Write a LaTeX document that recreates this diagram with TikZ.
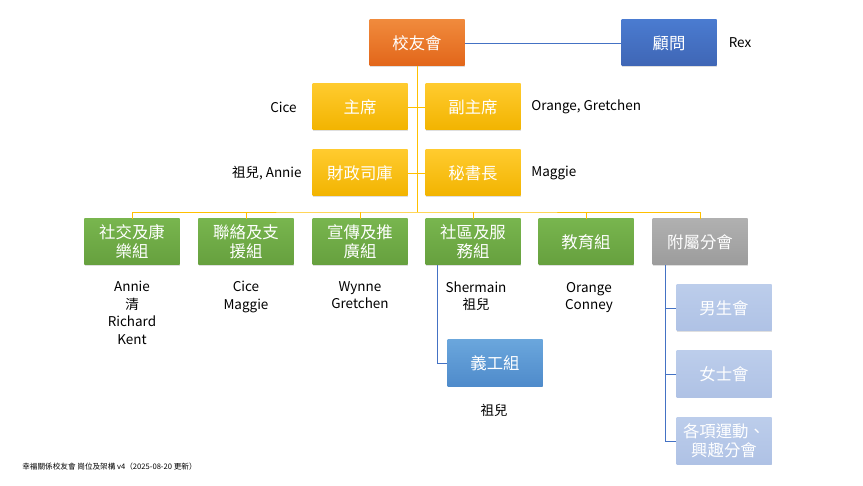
\documentclass[tikz,border=0pt]{standalone}
\usepackage{fontspec}
\setmainfont{Noto Sans CJK TC}
\usetikzlibrary{positioning,shadows}
\definecolor{orgA}{HTML}{F08A3C}\definecolor{orgB}{HTML}{E2661A}
\definecolor{bluA}{HTML}{4A7BD0}\definecolor{bluB}{HTML}{3F66B5}
\definecolor{yelA}{HTML}{FFCB2E}\definecolor{yelB}{HTML}{F2B400}
\definecolor{grnA}{HTML}{78B54E}\definecolor{grnB}{HTML}{66A03E}
\definecolor{gryA}{HTML}{B0B0B0}\definecolor{gryB}{HTML}{9C9C9C}
\definecolor{lbA}{HTML}{BCCDEB}\definecolor{lbB}{HTML}{AFC2E5}
\definecolor{vbA}{HTML}{6AA6DC}\definecolor{vbB}{HTML}{4F8BCB}
\definecolor{linY}{HTML}{FFC000}\definecolor{linB}{HTML}{4472C4}
\begin{document}
\begin{tikzpicture}
  [
  x=0.03cm, y=-0.03cm, line width=0.8pt,
  box/.style={rectangle, inner sep=0pt, minimum width=2.85cm, minimum height=1.38cm,
    align=center, text=white, font=\fontsize{14}{16}\selectfont,
    drop shadow={opacity=0.25, shadow xshift=0.3pt, shadow yshift=-0.8pt}},
  topbox/.style={box, top color=orgA, bottom color=orgB},
  advbox/.style={box, top color=bluA, bottom color=bluB},
  offbox/.style={box, top color=yelA, bottom color=yelB},
  grpbox/.style={box, top color=grnA, bottom color=grnB},
  subbox/.style={box, top color=gryA, bottom color=gryB},
  clubbox/.style={box, top color=lbA, bottom color=lbB},
  volbox/.style={box, top color=vbA, bottom color=vbB},
  who/.style={font=\fontsize{11.5}{15}\selectfont, align=center, text=black},
  ]
  \useasboundingbox (0,0) rectangle (863,486);

  % top level
  \node[topbox] (assoc) at (417,43) {校友會};
  \node[advbox] (advisor) at (669,43) {顧問};
  \node[who] (rex) at (740,43) {Rex};

  % officers
  \node[offbox] (chair) at (360,107) {主席};
  \node[offbox] (vice) at (473,107) {副主席};
  \node[offbox] (treas) at (360,173) {財政司庫};
  \node[offbox] (secr) at (473,173) {秘書長};
  \node[who, anchor=east] (chairp) at (301,107) {Cice};
  \node[who, anchor=west] (vicep) at (527,107) {Orange, Gretchen};
  \node[who, anchor=east] (treasp) at (306,173) {祖兒, Annie};
  \node[who, anchor=west] (secrp) at (527,173) {Maggie};

  % groups
  \node[grpbox] (social) at (132,242) {社交及康\\樂組};
  \node[grpbox] (liaison) at (246,242) {聯絡及支\\援組};
  \node[grpbox] (promo) at (360,242) {宣傳及推\\廣組};
  \node[grpbox] (comm) at (473,242) {社區及服\\務組};
  \node[grpbox] (edu) at (586,242) {教育組};
  \node[subbox] (branch) at (700,242) {附屬分會};
  \node[volbox] (vol) at (495,363) {義工組};
  \node[clubbox] (men) at (724,308) {男生會};
  \node[clubbox] (women) at (724,374) {女士會};
  \node[clubbox] (sport) at (724,441) {各項運動、\\興趣分會};

  \node[who, anchor=north] (socialp) at (132,277) {Annie\\清\\Richard\\Kent};
  \node[who, anchor=north] (liaisonp) at (246,277) {Cice\\Maggie};
  \node[who, anchor=north] (promop) at (360,277) {Wynne\\Gretchen};
  \node[who, anchor=north] (commp) at (476,277) {Shermain\\祖兒};
  \node[who, anchor=north] (edup) at (589,278) {Orange\\Conney};
  \node[who] (volp) at (494,410) {祖兒};

  % connectors
  \coordinate (bus) at (417,212);
  \draw[linB] (assoc) -- (advisor);
  \draw[linY] (assoc.south) -- (bus);
  \draw[linY] (chair.east) -- (vice.west);
  \draw[linY] (treas.east) -- (secr.west);
  \draw[linY] (social.north) |- (bus) -| (branch.north);
  \foreach \g in {liaison,promo,comm,edu}
    \draw[linY] (\g.north) -- (\g.north |- bus);
  \draw[linB] (comm.south -| 437,0) |- (vol.west);
  \draw[linB] (branch.south -| 665,0) |- (sport.west);
  \draw[linB] (men.west) -- (men.west -| 665,0);
  \draw[linB] (women.west) -- (women.west -| 665,0);

  \node[font=\fontsize{6.5}{8}\selectfont, anchor=west] (foot) at (18,467) {幸福關係校友會 崗位及架構 v4（2025-08-20 更新）};
\end{tikzpicture}
\end{document}
